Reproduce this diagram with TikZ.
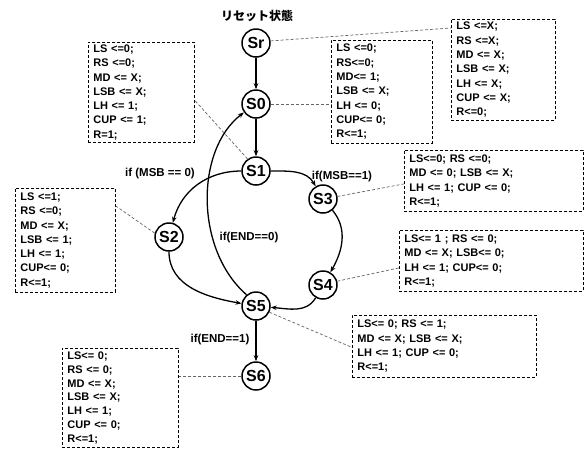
\documentclass[tikz,border=0pt]{standalone}
\usepackage{fontspec}
\setmainfont{Liberation Sans}
\newfontfamily\cjk{Noto Sans CJK JP}
\usetikzlibrary{arrows.meta}
\begin{document}
\begin{tikzpicture}[x=1pt,y=-1pt,
  st/.style={circle,draw,line width=1.5pt,minimum size=28pt,inner sep=0pt,font=\fontsize{16}{16}\selectfont\bfseries},
  arr/.style={line width=1.3pt,-{Stealth[length=6pt,width=4.5pt]}},
  dl/.style={dash pattern=on 3pt off 2pt,line width=0.7pt,black!60},
  box/.style={draw,dash pattern=on 3pt off 2pt,line width=0.8pt,anchor=north west,align=left,inner xsep=5pt,inner ysep=0pt,font=\fontsize{11}{14.3}\selectfont\bfseries},
  lab/.style={font=\fontsize{11.5}{13}\selectfont\bfseries}]
\clip (0,0) rectangle (585,448);
\fill[white] (0,0) rectangle (585,448);

\node[font=\cjk\fontsize{12}{12}\selectfont\bfseries] (title) at (257,16) {リセット状態};

\node[st] (Sr) at (256,43) {Sr};
\node[st] (S0) at (256,104) {S0};
\node[st] (S1) at (256,171) {S1};
\node[st] (S2) at (169,237) {S2};
\node[st] (S3) at (323,199) {S3};
\node[st] (S4) at (323,285) {S4};
\node[st] (S5) at (256,306) {S5};
\node[st] (S6) at (256,376) {S6};

\node[box,text width=94pt,minimum height=101pt] (SrB) at (451,19) {LS <=X;\\RS <=X;\\MD <= X;\\LSB <= X;\\LH <= X;\\CUP <= X;\\R<=0;};
\node[box,text width=91pt,minimum height=103pt] (S0B) at (331,40) {LS <=0;\\RS<=0;\\MD<= 1;\\LSB <= X;\\LH <= 0;\\CUP<= 0;\\R<=1;};
\node[box,text width=96pt,minimum height=100pt] (S1B) at (88,42) {LS <=0;\\RS <=0;\\MD <= X;\\LSB <= X;\\LH <= 1;\\CUP <= 1;\\R=1;};
\node[box,text width=169pt,minimum height=61pt] (S3B) at (404,150) {LS<=0; RS <=0;\\MD <= 0; LSB <= X;\\LH <= 1; CUP <= 0;\\R<=1;};
\node[box,text width=174pt,minimum height=61pt] (S4B) at (399,230) {LS<= 1 ; RS <= 0;\\MD <= X; LSB<= 0;\\LH <= 1; CUP<= 0;\\R<=1;};
\node[box,text width=174pt,minimum height=62pt] (S5B) at (352,315) {LS<= 0; RS <= 1;\\MD <= X; LSB <= X;\\LH <= 1; CUP <= 0;\\R<=1;};
\node[box,text width=90pt,minimum height=104pt] (S2B) at (15,188) {LS <=1;\\RS <=0;\\MD <= X;\\LSB <= 1;\\LH <= 1;\\CUP<= 0;\\R<=1;};
\node[box,text width=106pt,minimum height=99pt,font=\fontsize{11}{13.8}\selectfont\bfseries] (S6B) at (62,348) {LS<= 0;\\RS <= 0;\\MD <= X;\\LSB <= X;\\LH <= 1;\\CUP <= 0;\\R<=1;};

\draw[arr] (Sr) -- (S0);
\draw[arr] (S0) -- (S1);
\draw[arr] (S1) to[out=180,in=75] (S2);
\draw[arr] (S1) to[out=0,in=120] (S3);
\draw[arr] (S3) to[out=-50,in=60] (S4);
\draw[arr] (S2) to[out=-90,in=170] (S5);
\draw[arr] (S4) to[out=-120,in=-5] (S5);
\draw[arr] (S5.130) .. controls (195,250) and (195,150) .. (S0.215);
\draw[arr] (S5) -- (S6);

\node[lab] (l1) at (160,174) {if (MSB == 0)};
\node[lab] (l2) at (342,177) {if(MSB==1)};
\node[lab] (l3) at (249,238) {if(END==0)};
\node[lab] (l4) at (220,340) {if(END==1)};

\draw[dl] (Sr.8) -- ([yshift=-9pt]SrB.north west);
\draw[dl] (S0.east) -- (S0B.west |- S0.east);
\draw[dl] (S1.125) -- ([yshift=-8pt]S1B.east);
\draw[dl] (S3.10) -- ([yshift=-3pt]S3B.west);
\draw[dl] (S4.15) -- ([yshift=-7pt]S4B.west);
\draw[dl] (S5.-25) -- ([yshift=-1pt]S5B.west);
\draw[dl] (S2.165) -- ([yshift=-18pt]S2B.north east);
\draw[dl] (S6.west) -- (S6B.east |- S6.west);
\end{tikzpicture}
\end{document}
